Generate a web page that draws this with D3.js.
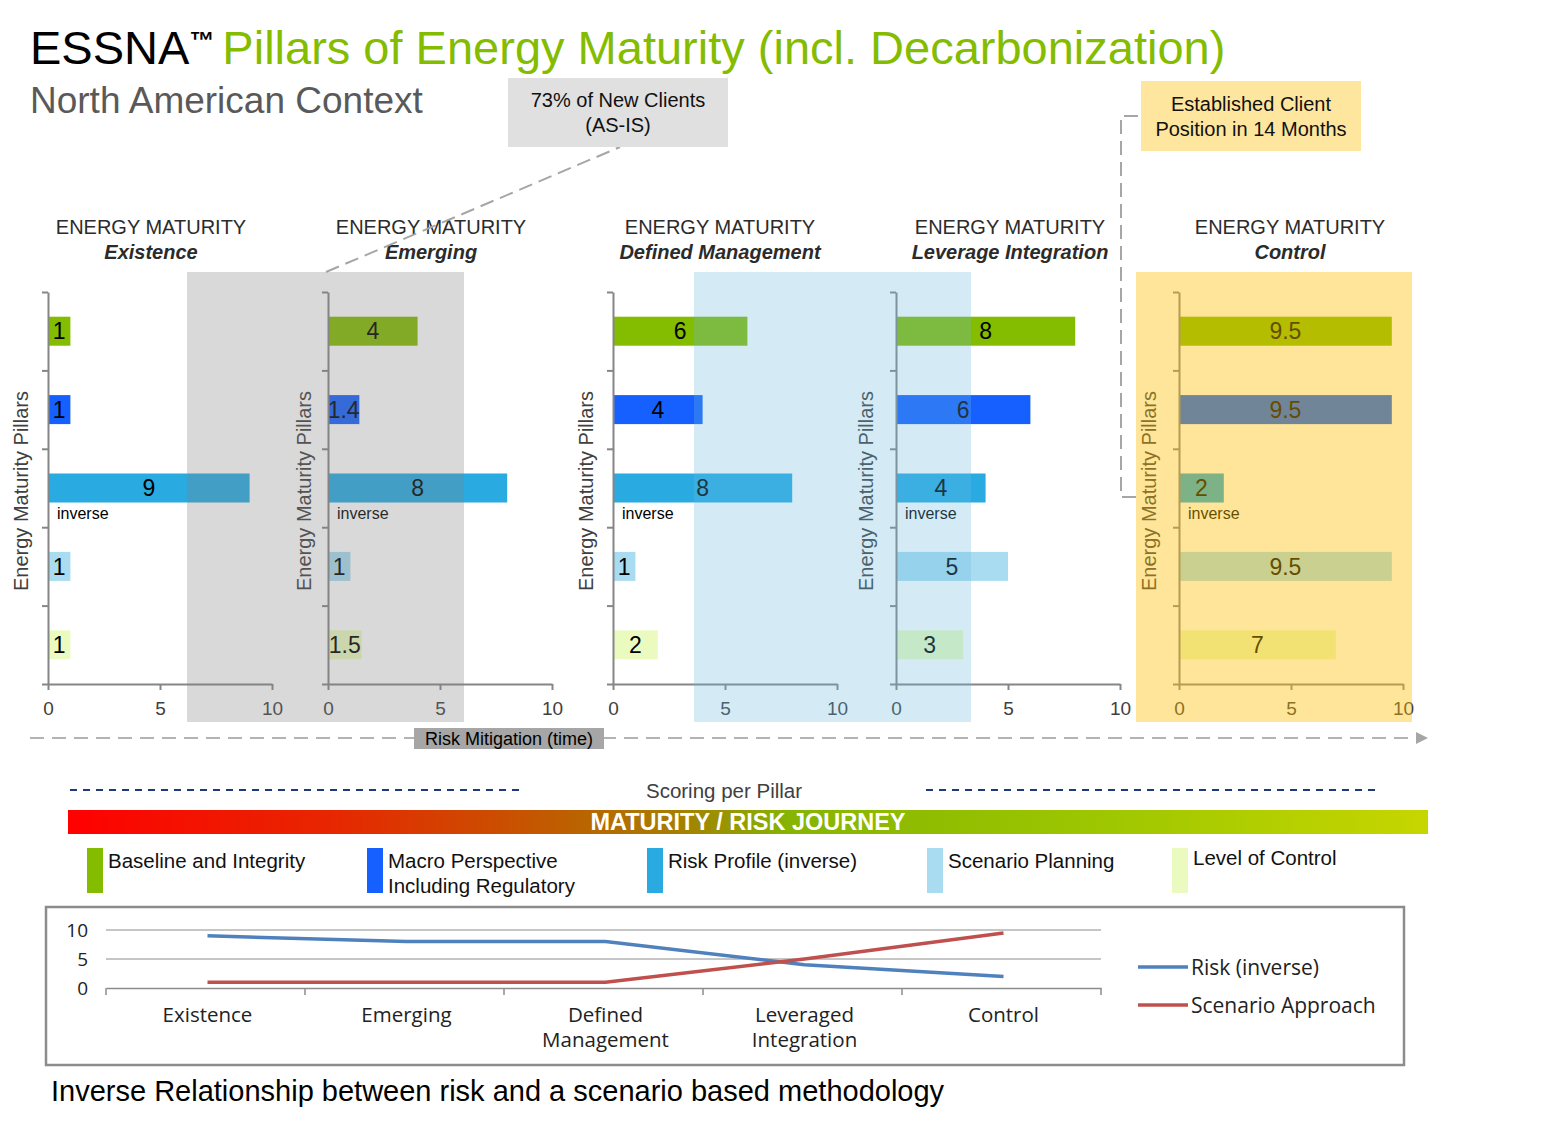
<!DOCTYPE html>
<html>
<head>
<meta charset="utf-8">
<script src="https://cdn.jsdelivr.net/npm/d3@7"></script>
<style>
  body { margin: 0; background: #fff; }
  svg { font-family: "Liberation Sans", Arial, sans-serif; }
</style>
</head>
<body>
<script>
// pillars, top to bottom in every panel
var pillars = ["Baseline and Integrity", "Macro Perspective Including Regulatory", "Risk Profile (inverse)", "Scenario Planning", "Level of Control"];
var pillarLegend = [["Baseline and Integrity"], ["Macro Perspective", "Including Regulatory"], ["Risk Profile (inverse)"], ["Scenario Planning"], ["Level of Control"]];
var pillarColors = ["#84bc00", "#1560fe", "#29abe2", "#a9dcf0", "#ebfbc0"];

// maturity stages
var stages = ["Existence", "Emerging", "Defined Management", "Leverage Integration", "Control"];
var lineStages = [["Existence"], ["Emerging"], ["Defined", "Management"], ["Leveraged", "Integration"], ["Control"]];

// scores per pillar, one value per stage
var baseline = [1, 4, 6, 8, 9.5];
var macro = [1, 1.4, 4, 6, 9.5];
var riskProfile = [9, 8, 8, 4, 2];
var scenario = [1, 1, 1, 5, 9.5];
var levelOfControl = [1, 1.5, 2, 3, 7];

var scoreTicks = [0, 5, 10];
var lineTicks = [0, 5, 10];

var width = 1554, height = 1127;

var svg = d3.select("body").append("svg")
  .attr("width", width)
  .attr("height", height);

var defs = svg.append("defs");
var grad = defs.append("linearGradient").attr("id", "journey")
  .attr("x1", "0").attr("x2", "1").attr("y1", "0").attr("y2", "0");
[[0, "#ff0000"], [0.2, "#e62800"], [0.33, "#c85200"], [0.45, "#a57f00"], [0.53, "#86b400"], [0.75, "#9cc600"], [1, "#c6d600"]]
  .forEach(function (s) { grad.append("stop").attr("offset", s[0]).attr("stop-color", s[1]); });

// ---- title
var title = svg.append("text").attr("x", 30).attr("y", 64).style("font-size", "47px");
title.append("tspan").attr("fill", "#000").text("ESSNA");
title.append("tspan").attr("fill", "#000").attr("dy", -15).style("font-size", "25px").style("font-weight", "bold").text("™");
title.append("tspan").attr("fill", "#84bc00").attr("dy", 15).attr("dx", 8).text("Pillars of Energy Maturity (incl. Decarbonization)");

svg.append("text").attr("x", 30).attr("y", 113)
  .attr("fill", "#595959").style("font-size", "37px")
  .text("North American Context");

// ---- small bar panels
var panelX = [48, 328, 613, 896, 1179];
var titleX = [151, 431, 720, 1010, 1290];
var yLabelOff = [-27, -24, -27, -30, -30];
var plotTop = 292, plotBottom = 684, plotW = 224;

var panelValues = stages.map(function (s, i) {
  return [baseline[i], macro[i], riskProfile[i], scenario[i], levelOfControl[i]];
});

var y = d3.scaleBand().domain(pillars).range([plotTop, plotBottom])
  .paddingInner(0.63).paddingOuter(0.315);
var yEdge = d3.scaleLinear().domain([0, pillars.length]).range([plotBottom, plotTop]);

stages.forEach(function (stage, i) {
  var g = svg.append("g").attr("class", "panel");
  var x = d3.scaleLinear().domain([0, 10]).range([panelX[i], panelX[i] + plotW]);

  g.append("text").attr("x", titleX[i]).attr("y", 234).attr("text-anchor", "middle")
    .attr("fill", "#2b2b2b").style("font-size", "20px").text("ENERGY MATURITY");
  g.append("text").attr("x", titleX[i]).attr("y", 259).attr("text-anchor", "middle")
    .attr("fill", "#2b2b2b").style("font-size", "20px").style("font-weight", "bold")
    .style("font-style", "italic").text(stage);

  var data = panelValues[i].map(function (v, k) { return { p: pillars[k], v: v, c: pillarColors[k] }; });

  g.selectAll("rect.bar").data(data).enter().append("rect")
    .attr("class", "bar")
    .attr("x", x(0))
    .attr("y", function (d) { return y(d.p); })
    .attr("width", function (d) { return x(d.v) - x(0); })
    .attr("height", y.bandwidth())
    .attr("fill", function (d) { return d.c; });

  g.selectAll("text.val").data(data).enter().append("text")
    .attr("class", "val")
    .attr("x", function (d) { return (x(0) + x(d.v)) / 2; })
    .attr("y", function (d) { return y(d.p) + y.bandwidth() / 2; })
    .attr("dy", "0.36em").attr("text-anchor", "middle")
    .attr("fill", "#000").style("font-size", "23px")
    .text(function (d) { return d.v; });

  g.append("text").attr("x", x(0) + 9).attr("y", y(pillars[2]) + y.bandwidth() + 16)
    .attr("fill", "#000").style("font-size", "16px").text("inverse");

  var xa = g.append("g").attr("transform", "translate(0," + plotBottom + ")")
    .call(d3.axisBottom(x).tickValues(scoreTicks).tickSize(6).tickSizeOuter(0).tickPadding(12));
  var ya = g.append("g").attr("transform", "translate(" + x(0) + ",0)")
    .call(d3.axisLeft(yEdge).ticks(pillars.length).tickFormat("").tickSize(6).tickSizeOuter(0));
  [xa, ya].forEach(function (a) {
    a.selectAll("path, line").attr("stroke", "#868686").attr("stroke-width", 2);
    a.selectAll("text").attr("fill", "#404040").style("font-size", "19px")
      .style("font-family", "'Liberation Sans', Arial, sans-serif");
  });

  g.append("text")
    .attr("transform", "translate(" + (x(0) + yLabelOff[i]) + "," + ((plotTop + plotBottom) / 2 + 3) + ") rotate(-90)")
    .attr("text-anchor", "middle").attr("dy", "0.35em")
    .attr("fill", "#404040").style("font-size", "20px")
    .text("Energy Maturity Pillars");
});

// ---- stage highlight overlays
svg.append("rect").attr("x", 187).attr("y", 272).attr("width", 277).attr("height", 450)
  .attr("fill", "#808080").attr("fill-opacity", 0.3);
svg.append("rect").attr("x", 694).attr("y", 272).attr("width", 277).attr("height", 450)
  .attr("fill", "#68b9e0").attr("fill-opacity", 0.285);
svg.append("rect").attr("x", 1136).attr("y", 272).attr("width", 276).attr("height", 450)
  .attr("fill", "#fcbe00").attr("fill-opacity", 0.4);

// ---- callouts
svg.append("line").attr("x1", 326).attr("y1", 272).attr("x2", 620).attr("y2", 147)
  .attr("stroke", "#a6a6a6").attr("stroke-width", 2).attr("stroke-dasharray", "14,7");
svg.append("rect").attr("x", 508).attr("y", 78).attr("width", 220).attr("height", 69).attr("fill", "#e0e0e0");
svg.append("text").attr("x", 618).attr("y", 107).attr("text-anchor", "middle")
  .attr("fill", "#111").style("font-size", "20px").text("73% of New Clients");
svg.append("text").attr("x", 618).attr("y", 132).attr("text-anchor", "middle")
  .attr("fill", "#111").style("font-size", "20px").text("(AS-IS)");

svg.append("path").attr("d", "M1138,116 H1121 V497 H1136")
  .attr("fill", "none").attr("stroke", "#a6a6a6").attr("stroke-width", 2).attr("stroke-dasharray", "14,7");
svg.append("rect").attr("x", 1141).attr("y", 81).attr("width", 220).attr("height", 70).attr("fill", "#fee69e");
svg.append("text").attr("x", 1251).attr("y", 111).attr("text-anchor", "middle")
  .attr("fill", "#111").style("font-size", "20px").text("Established Client");
svg.append("text").attr("x", 1251).attr("y", 136).attr("text-anchor", "middle")
  .attr("fill", "#111").style("font-size", "20px").text("Position in 14 Months");

// ---- risk mitigation arrow
svg.append("line").attr("x1", 30).attr("y1", 738).attr("x2", 1417).attr("y2", 738)
  .attr("stroke", "#b3b3b3").attr("stroke-width", 2).attr("stroke-dasharray", "14,8");
svg.append("path").attr("d", "M1416,732 L1428,738 L1416,744 Z").attr("fill", "#a6a6a6");
svg.append("rect").attr("x", 414).attr("y", 728).attr("width", 190).attr("height", 21).attr("fill", "#a6a6a6");
svg.append("text").attr("x", 509).attr("y", 745).attr("text-anchor", "middle")
  .attr("fill", "#000").style("font-size", "18px").text("Risk Mitigation (time)");

// ---- journey bar
svg.append("line").attr("x1", 70).attr("y1", 790).attr("x2", 522).attr("y2", 790)
  .attr("stroke", "#1f3a7a").attr("stroke-width", 2).attr("stroke-dasharray", "7,6");
svg.append("line").attr("x1", 926).attr("y1", 790).attr("x2", 1378).attr("y2", 790)
  .attr("stroke", "#1f3a7a").attr("stroke-width", 2).attr("stroke-dasharray", "7,6");
svg.append("text").attr("x", 724).attr("y", 798).attr("text-anchor", "middle")
  .attr("fill", "#404040").style("font-size", "20.5px").text("Scoring per Pillar");
svg.append("rect").attr("x", 68).attr("y", 810).attr("width", 1360).attr("height", 24).attr("fill", "url(#journey)");
svg.append("text").attr("x", 748).attr("y", 830).attr("text-anchor", "middle")
  .attr("fill", "#fff").style("font-size", "23.5px").style("font-weight", "bold").text("MATURITY / RISK JOURNEY");

// ---- pillar legend
var legendX = [87, 367, 647, 927, 1172];
var leg = svg.selectAll("g.leg").data(pillars).enter().append("g").attr("class", "leg")
  .attr("transform", function (d, i) { return "translate(" + legendX[i] + ",848)"; });
leg.append("rect").attr("width", 16).attr("height", 45)
  .attr("fill", function (d, i) { return pillarColors[i]; });
leg.each(function (d, i) {
  var t = d3.select(this).append("text").attr("x", 21).attr("y", i === 4 ? 17 : 20)
    .attr("fill", "#111").style("font-size", "20.5px");
  pillarLegend[i].forEach(function (line, k) {
    t.append("tspan").attr("x", 21).attr("dy", k === 0 ? 0 : 25).text(line);
  });
});

// ---- inverse relationship line chart
svg.append("rect").attr("x", 46).attr("y", 907).attr("width", 1358).attr("height", 158)
  .attr("fill", "#fff").attr("stroke", "#8c8c8c").attr("stroke-width", 2.5);

var lc = svg.append("g").style("font-family", "'Open Sans', sans-serif");
var lx = d3.scaleBand().domain(stages).range([106, 1101]);
var ly = d3.scaleLinear().domain([0, 10]).range([988, 930]);

lc.selectAll("line.grid").data(lineTicks.slice(1)).enter().append("line")
  .attr("x1", 106).attr("x2", 1101)
  .attr("y1", function (d) { return ly(d); }).attr("y2", function (d) { return ly(d); })
  .attr("stroke", "#8c8c8c").attr("stroke-width", 1);

var lxa = lc.append("g").attr("transform", "translate(0,988)")
  .call(d3.axisBottom(lx).tickValues([]).tickSizeOuter(0));
lxa.selectAll("path").attr("stroke", "#8c8c8c").attr("stroke-width", 1.5);
lc.selectAll("line.vt").data(d3.range(stages.length + 1)).enter().append("line")
  .attr("x1", function (d) { return lx.range()[0] + d * lx.step(); })
  .attr("x2", function (d) { return lx.range()[0] + d * lx.step(); })
  .attr("y1", 988).attr("y2", 995).attr("stroke", "#8c8c8c").attr("stroke-width", 1.5);

lc.selectAll("text.yl").data(lineTicks).enter().append("text")
  .attr("x", 88).attr("y", function (d) { return ly(d); }).attr("dy", "0.36em")
  .attr("text-anchor", "end").attr("fill", "#222").style("font-size", "19px")
  .text(function (d) { return d; });

lineStages.forEach(function (lines, i) {
  var cx = lx(stages[i]) + lx.bandwidth() / 2 + 2;
  var t = lc.append("text").attr("x", cx).attr("y", 1022)
    .attr("text-anchor", "middle").attr("fill", "#222").style("font-size", "20.5px");
  lines.forEach(function (l, k) {
    t.append("tspan").attr("x", cx).attr("dy", k === 0 ? 0 : 25).text(l);
  });
});

var line = d3.line()
  .x(function (d, i) { return lx(stages[i]) + lx.bandwidth() / 2 + 2; })
  .y(function (d) { return ly(d); });

var series = [
  { name: "Risk (inverse)", values: riskProfile, color: "#4f81bd" },
  { name: "Scenario Approach", values: scenario, color: "#c0504d" }
];
lc.selectAll("path.series").data(series).enter().append("path")
  .attr("class", "series")
  .attr("d", function (d) { return line(d.values); })
  .attr("fill", "none").attr("stroke", function (d) { return d.color; }).attr("stroke-width", 3.5);

var ll = lc.selectAll("g.ll").data(series).enter().append("g").attr("class", "ll")
  .attr("transform", function (d, i) { return "translate(1138," + (967 + i * 38) + ")"; });
ll.append("line").attr("x1", 0).attr("x2", 50)
  .attr("stroke", function (d) { return d.color; }).attr("stroke-width", 3.5);
ll.append("text").attr("x", 53).attr("dy", "0.36em").attr("fill", "#222").style("font-size", "21px")
  .text(function (d) { return d.name; });

svg.append("text").attr("x", 51).attr("y", 1101)
  .attr("fill", "#000").style("font-size", "29px")
  .text("Inverse Relationship between risk and a scenario based methodology");
</script>
</body>
</html>
